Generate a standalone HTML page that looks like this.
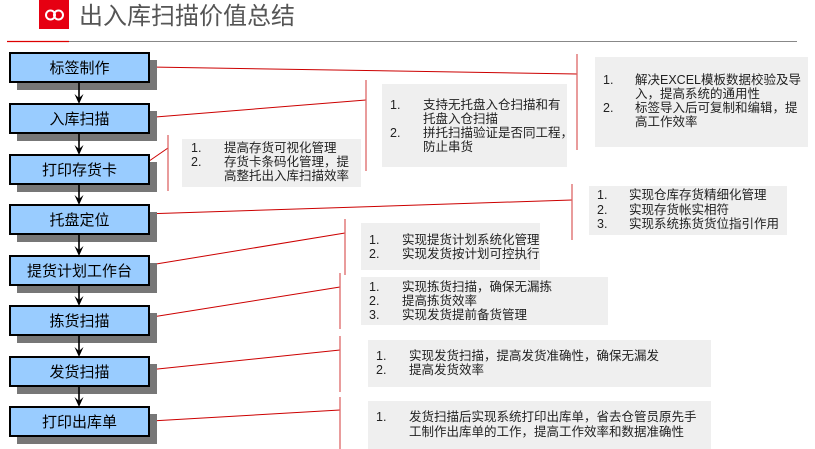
<!DOCTYPE html>
<html><head><meta charset="utf-8"><style>
html,body{margin:0;padding:0;background:#fff;}
svg{display:block;}
text{font-family:"Liberation Sans","Noto Sans CJK SC",sans-serif;}
.t{font-size:12.5px;fill:#222;}
.b{font-size:15px;fill:#000;text-anchor:middle;}
</style></head><body>
<svg width="815" height="449" viewBox="0 0 815 449" xmlns="http://www.w3.org/2000/svg">
<!-- header -->
<rect x="39" y="0" width="30" height="29" fill="#e60012"/>
<circle cx="50.5" cy="15" r="4.5" fill="none" stroke="#fff" stroke-width="2"/>
<circle cx="58.5" cy="15" r="4.5" fill="none" stroke="#fff" stroke-width="2"/>
<text x="79" y="24" font-size="24" fill="#555" style="font-family:'Noto Sans CJK SC',sans-serif">出入库扫描价值总结</text>
<line x1="69" y1="41.5" x2="797" y2="41.5" stroke="#888" stroke-width="1"/>
<line x1="7" y1="41.5" x2="69" y2="41.5" stroke="#d00" stroke-width="1.2"/>

<!-- gray callout boxes -->
<g fill="#efefef">
<rect x="595" y="57" width="213" height="90"/>
<rect x="382" y="84" width="185" height="83"/>
<rect x="182" y="139" width="179" height="48"/>
<rect x="589" y="186" width="198" height="49"/>
<rect x="361" y="223" width="179" height="47"/>
<rect x="361" y="277" width="247" height="48"/>
<rect x="368" y="340" width="343" height="47"/>
<rect x="368" y="401" width="343" height="48"/>
</g>

<!-- connectors -->
<g stroke="#c00" stroke-width="1" fill="none">
<line x1="150" y1="67" x2="577" y2="74"/>
<line x1="143" y1="118" x2="366" y2="100"/>
<line x1="139" y1="168" x2="168" y2="148"/>
<line x1="143" y1="214" x2="572" y2="200"/>
<line x1="150" y1="265" x2="345" y2="233"/>
<line x1="146" y1="318" x2="340" y2="287"/>
<line x1="148" y1="370" x2="340" y2="350"/>
<line x1="151" y1="421" x2="340" y2="410"/>
</g>
<g stroke="#d66" stroke-width="1.3">
<line x1="577" y1="54" x2="577" y2="150"/>
<line x1="366" y1="80" x2="366" y2="171"/>
<line x1="168" y1="135" x2="168" y2="191"/>
<line x1="572" y1="184" x2="572" y2="240"/>
<line x1="345" y1="219" x2="345" y2="275"/>
<line x1="340" y1="273" x2="340" y2="329"/>
<line x1="340" y1="336" x2="340" y2="392"/>
<line x1="340" y1="397" x2="340" y2="449"/>
</g>

<!-- boxes -->
<g>
<rect x="17" y="60" width="140" height="30" fill="#777"/><rect x="10" y="53" width="139" height="29" fill="#99ccff" stroke="#000" stroke-width="2"/><text class="b" x="79.5" y="73">标签制作</text>
<rect x="17" y="111" width="140" height="30" fill="#777"/><rect x="10" y="104" width="139" height="29" fill="#99ccff" stroke="#000" stroke-width="2"/><text class="b" x="79.5" y="124">入库扫描</text>
<rect x="17" y="162" width="140" height="30" fill="#777"/><rect x="10" y="155" width="139" height="29" fill="#99ccff" stroke="#000" stroke-width="2"/><text class="b" x="79.5" y="175">打印存货卡</text>
<rect x="17" y="212" width="140" height="30" fill="#777"/><rect x="10" y="205" width="139" height="29" fill="#99ccff" stroke="#000" stroke-width="2"/><text class="b" x="79.5" y="225">托盘定位</text>
<rect x="17" y="263" width="140" height="30" fill="#777"/><rect x="10" y="256" width="139" height="29" fill="#99ccff" stroke="#000" stroke-width="2"/><text class="b" x="79.5" y="276">提货计划工作台</text>
<rect x="17" y="313" width="140" height="30" fill="#777"/><rect x="10" y="306" width="139" height="29" fill="#99ccff" stroke="#000" stroke-width="2"/><text class="b" x="79.5" y="326">拣货扫描</text>
<rect x="17" y="364" width="140" height="30" fill="#777"/><rect x="10" y="357" width="139" height="29" fill="#99ccff" stroke="#000" stroke-width="2"/><text class="b" x="79.5" y="377">发货扫描</text>
<rect x="17" y="414" width="140" height="30" fill="#777"/><rect x="10" y="407" width="139" height="29" fill="#99ccff" stroke="#000" stroke-width="2"/><text class="b" x="79.5" y="427">打印出库单</text>
</g>

<!-- arrows -->
<g stroke="#000" stroke-width="1.6">
<line x1="79" y1="82" x2="79" y2="100"/>
<line x1="79" y1="133" x2="79" y2="151"/>
<line x1="79" y1="183" x2="79" y2="202"/>
<line x1="79" y1="234" x2="79" y2="253"/>
<line x1="79" y1="285" x2="79" y2="303"/>
<line x1="79" y1="335" x2="79" y2="354"/>
<line x1="79" y1="386" x2="79" y2="404"/>
</g>
<g fill="#000">
<path d="M74.5,94 L79,104 L83.5,94 L79,98 Z"/>
<path d="M74.5,145 L79,155 L83.5,145 L79,149 Z"/>
<path d="M74.5,195 L79,205 L83.5,195 L79,199 Z"/>
<path d="M74.5,246 L79,256 L83.5,246 L79,250 Z"/>
<path d="M74.5,296 L79,306 L83.5,296 L79,300 Z"/>
<path d="M74.5,347 L79,357 L83.5,347 L79,351 Z"/>
<path d="M74.5,397 L79,407 L83.5,397 L79,401 Z"/>
</g>

<!-- callout text -->
<g class="t">
<text class="t" x="603" y="84">1.</text><text class="t" x="635" y="84">解决EXCEL模板数据校验及导</text>
<text class="t" x="635" y="98">入，提高系统的通用性</text>
<text class="t" x="603" y="112">2.</text><text class="t" x="635" y="112">标签导入后可复制和编辑，提</text>
<text class="t" x="635" y="126">高工作效率</text>

<text class="t" x="390" y="109">1.</text><text class="t" x="423" y="109">支持无托盘入仓扫描和有</text>
<text class="t" x="423" y="123">托盘入仓扫描</text>
<text class="t" x="390" y="137">2.</text><text class="t" x="423" y="137">拼托扫描验证是否同工程，</text>
<text class="t" x="423" y="151">防止串货</text>

<text class="t" x="191" y="152">1.</text><text class="t" x="224" y="152">提高存货可视化管理</text>
<text class="t" x="191" y="166">2.</text><text class="t" x="224" y="166">存货卡条码化管理，提</text>
<text class="t" x="224" y="180">高整托出入库扫描效率</text>

<text class="t" x="597" y="199">1.</text><text class="t" x="629" y="199">实现仓库存货精细化管理</text>
<text class="t" x="597" y="214">2.</text><text class="t" x="629" y="214">实现存货帐实相符</text>
<text class="t" x="597" y="228">3.</text><text class="t" x="629" y="228">实现系统拣货货位指引作用</text>

<text class="t" x="369" y="244">1.</text><text class="t" x="402" y="244">实现提货计划系统化管理</text>
<text class="t" x="369" y="258">2.</text><text class="t" x="402" y="258">实现发货按计划可控执行</text>

<text class="t" x="369" y="291">1.</text><text class="t" x="402" y="291">实现拣货扫描，确保无漏拣</text>
<text class="t" x="369" y="305">2.</text><text class="t" x="402" y="305">提高拣货效率</text>
<text class="t" x="369" y="319">3.</text><text class="t" x="402" y="319">实现发货提前备货管理</text>

<text class="t" x="376" y="360">1.</text><text class="t" x="409" y="360">实现发货扫描，提高发货准确性，确保无漏发</text>
<text class="t" x="376" y="374">2.</text><text class="t" x="409" y="374">提高发货效率</text>

<text class="t" x="376" y="421">1.</text><text class="t" x="409" y="421">发货扫描后实现系统打印出库单，省去仓管员原先手</text>
<text class="t" x="409" y="436">工制作出库单的工作，提高工作效率和数据准确性</text>
</g>
</svg>
</body></html>
